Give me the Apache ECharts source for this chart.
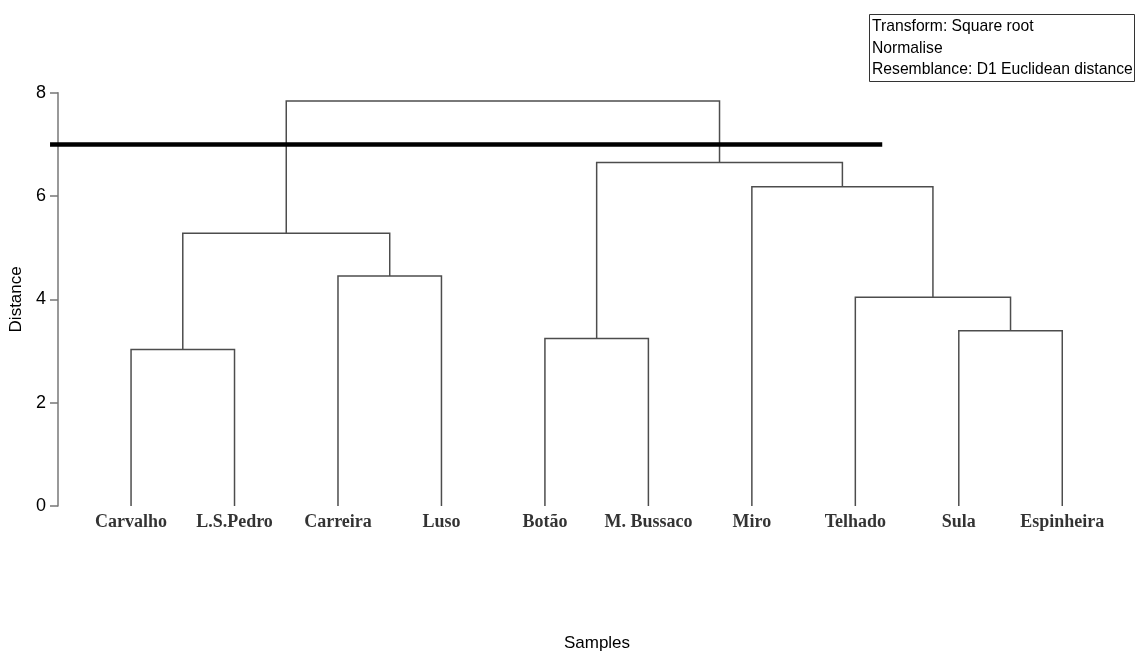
<!DOCTYPE html>
<html>
<head>
<meta charset="utf-8">
<script src="https://cdn.jsdelivr.net/npm/echarts@6/dist/echarts.min.js"></script>
<style>
  html, body { margin: 0; padding: 0; background: #fff; }
  #chart { width: 1135px; height: 655px; }
</style>
</head>
<body>
<div id="chart"></div>
<script>
// Samples (leaves of the dendrogram, left to right)
const samples = ['Carvalho', 'L.S.Pedro', 'Carreira', 'Luso', 'Botão', 'M. Bussaco', 'Miro', 'Telhado', 'Sula', 'Espinheira'];

// Agglomeration steps: indices < 10 are samples, >= 10 refer to earlier merges (10 + step index)
const mergeLeft   = [0, 2, 10, 4, 8, 7, 6, 13, 12];
const mergeRight  = [1, 3, 11, 5, 9, 14, 15, 16, 17];
const mergeHeight = [3.03, 4.45, 5.28, 3.24, 3.39, 4.04, 6.18, 6.65, 7.84];

// Cut level drawn across the tree
const cutLevel = 7;

// Y axis ticks
const yTicks = [0, 2, 4, 6, 8];

const legendLines = ['Transform: Square root', 'Normalise', 'Resemblance: D1 Euclidean distance'];

// Node positions: leaves at their index, merged nodes at the midpoint of their children
const nodeX = samples.map((_, i) => i);
const nodeH = samples.map(() => 0);
const branches = [];
mergeLeft.forEach((a, k) => {
  const b = mergeRight[k];
  const h = mergeHeight[k];
  branches.push({
    coords: [[nodeX[a], nodeH[a]], [nodeX[a], h], [nodeX[b], h], [nodeX[b], nodeH[b]]]
  });
  nodeX.push((nodeX[a] + nodeX[b]) / 2);
  nodeH.push(h);
});

const chart = echarts.init(document.getElementById('chart'), null, { renderer: 'canvas' });

chart.setOption({
  backgroundColor: '#ffffff',
  animation: false,
  grid: { left: 58, right: 21, top: 92.7, bottom: 149, containLabel: false },
  xAxis: {
    type: 'value',
    min: -0.706,
    max: 9.5,
    show: false
  },
  yAxis: {
    type: 'value',
    min: yTicks[0],
    max: yTicks[yTicks.length - 1],
    interval: 2,
    name: 'Distance',
    nameLocation: 'middle',
    nameGap: 32,
    nameRotate: 90,
    nameTextStyle: { fontFamily: 'Liberation Sans', fontSize: 17, color: '#000' },
    axisLine: { show: true, onZero: false, lineStyle: { color: '#777', width: 1.5 } },
    axisTick: { show: true, inside: false, length: 8, lineStyle: { color: '#777', width: 1.5 } },
    axisLabel: { fontFamily: 'Liberation Sans', fontSize: 18, color: '#000', margin: 12 },
    splitLine: { show: false }
  },
  graphic: [
    {
      type: 'rect',
      left: 869, top: 14,
      shape: { width: 265, height: 67 },
      style: { fill: '#fff', stroke: '#333', lineWidth: 1 }
    },
    {
      type: 'text',
      left: 872, top: 16,
      style: {
        text: legendLines.join('\n'),
        fontFamily: 'Liberation Sans',
        fontSize: 15.7,
        lineHeight: 21.5,
        fill: '#000'
      }
    },
    {
      type: 'text',
      x: 597, y: 643,
      style: {
        text: 'Samples', fontFamily: 'Liberation Sans', fontSize: 17, fill: '#000',
        align: 'center', verticalAlign: 'middle'
      }
    }
  ],
  series: [
    {
      type: 'lines',
      coordinateSystem: 'cartesian2d',
      polyline: true,
      silent: true,
      lineStyle: { color: '#4d4d4d', width: 1.5, opacity: 1 },
      data: branches
    },
    {
      type: 'lines',
      coordinateSystem: 'cartesian2d',
      polyline: false,
      clip: false,
      silent: true,
      lineStyle: { color: '#000', width: 4.5, opacity: 1 },
      data: [{ coords: [[-0.783, cutLevel], [7.26, cutLevel]] }]
    },
    {
      type: 'scatter',
      symbolSize: 0,
      silent: true,
      clip: false,
      data: samples.map((s, i) => ({ name: s, value: [i, 0] })),
      label: {
        show: true,
        position: 'bottom',
        distance: 7,
        formatter: p => p.name,
        fontFamily: 'Liberation Serif',
        fontWeight: 'bold',
        fontSize: 18,
        color: '#000'
      }
    }
  ]
});
</script>
</body>
</html>
